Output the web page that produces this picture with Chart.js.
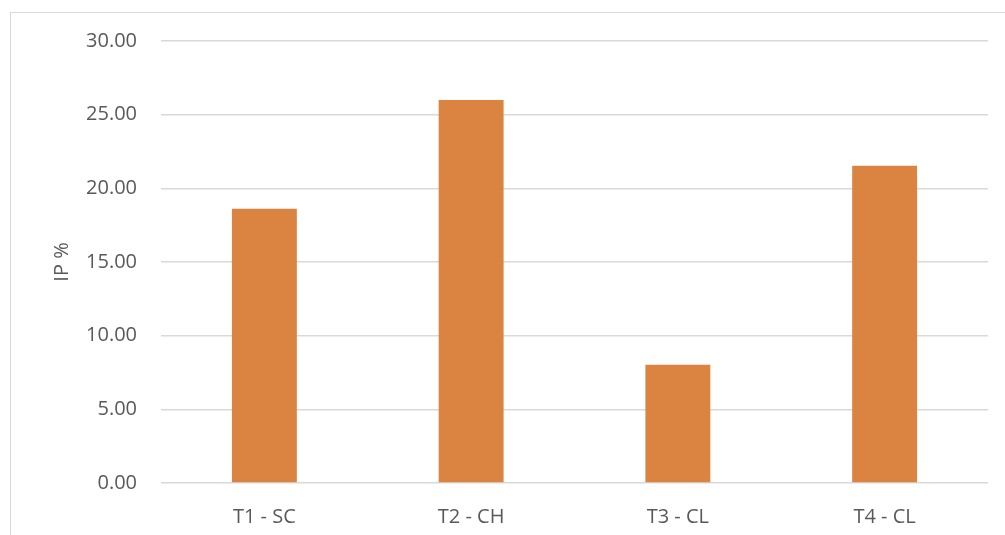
<!DOCTYPE html>
<html>
<head>
<meta charset="utf-8">
<script src="https://cdn.jsdelivr.net/npm/chart.js@4.4.0/dist/chart.umd.min.js"></script>
<style>
  html, body { margin: 0; padding: 0; background: #fff; overflow: hidden; }
  #frame { position: absolute; left: 10px; top: 12px; width: 1100px; height: 600px;
           border-left: 1px solid #d9d9d9; border-top: 1px solid #d9d9d9; }
  #wrap { position: absolute; left: 0; top: 0; width: 1005px; height: 535px; }
</style>
</head>
<body>
<div id="frame"></div>
<div id="wrap"><canvas id="chart" width="1005" height="535"></canvas></div>
<script>
// categories and values
const categories = ['T1 - SC', 'T2 - CH', 'T3 - CL', 'T4 - CL'];
const ipValues = [18.62, 26.0, 8.02, 21.54];
const yTicks = [0, 5, 10, 15, 20, 25, 30];

const textColor = '#595959';
const gridColor = '#d9d9d9';
const fontFamily = "'Open Sans', 'Liberation Sans', sans-serif";

const ctx = document.getElementById('chart').getContext('2d');
const ipChart = new Chart(ctx, {
    type: 'bar',
    data: {
        labels: categories,
        datasets: [{
            label: 'IP %',
            data: ipValues,
            backgroundColor: '#db8340',
            borderWidth: 0,
            categoryPercentage: 1,
            barPercentage: 0.314
        }]
    },
    options: {
        responsive: false,
        animation: false,
        layout: { padding: { left: 0, top: 41, right: 17, bottom: 0 } },
        plugins: {
            legend: { display: false },
            tooltip: { enabled: false }
        },
        scales: {
            x: {
                grid: { display: false, drawTicks: false },
                border: { display: false },
                ticks: {
                    color: textColor,
                    padding: 22,
                    font: { family: fontFamily, size: 20 }
                },
                afterFit: (scale) => { scale.height = 52; }
            },
            y: {
                min: 0,
                max: 30,
                afterBuildTicks: (scale) => { scale.ticks = yTicks.map(v => ({ value: v })); },
                grid: { color: gridColor, lineWidth: 1.5, drawTicks: false },
                border: { display: false },
                ticks: {
                    color: textColor,
                    padding: 24,
                    font: { family: fontFamily, size: 20 },
                    callback: (v) => Number(v).toFixed(2)
                },
                title: {
                    display: true,
                    text: 'IP %',
                    color: textColor,
                    font: { family: fontFamily, size: 20 },
                    padding: { top: 50, bottom: 0 }
                },
                afterFit: (scale) => { scale.width = 161; }
            }
        }
    }
});
</script>
</body>
</html>
